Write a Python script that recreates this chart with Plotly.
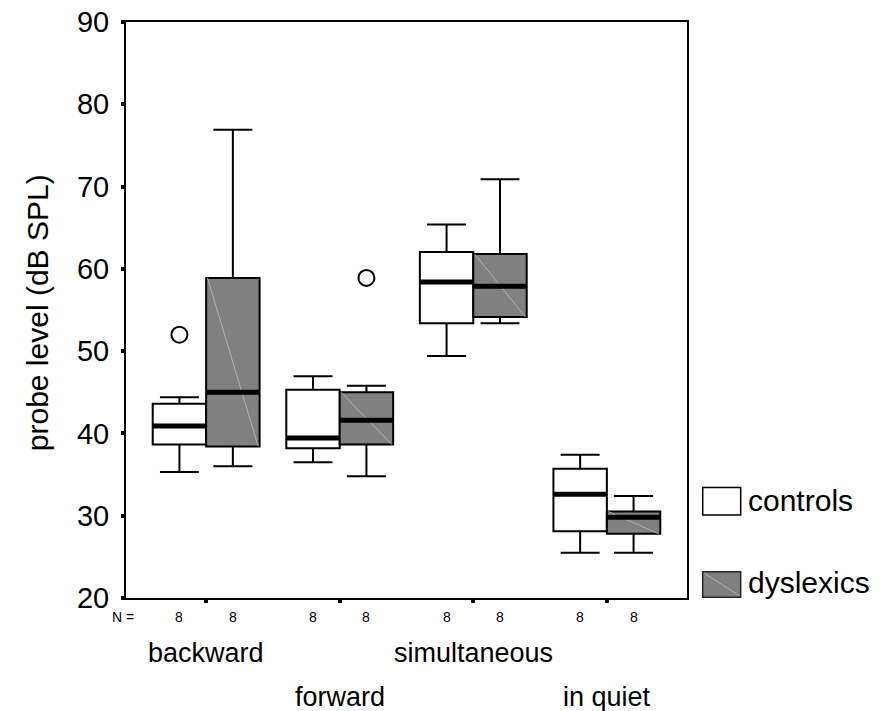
import plotly.graph_objects as go

# ---- data ----
conditions = ["backward", "forward", "simultaneous", "in quiet"]

ctrl_lower = [35.3, 36.5, 49.4, 25.5]
ctrl_q1 = [38.65, 38.2, 53.4, 28.1]
ctrl_median = [40.9, 39.45, 58.4, 32.6]
ctrl_q3 = [43.6, 45.3, 62.05, 35.7]
ctrl_upper = [44.4, 46.95, 65.4, 37.4]

dys_lower = [36.0, 34.8, 53.4, 25.5]
dys_q1 = [38.4, 38.65, 54.15, 27.8]
dys_median = [45.0, 41.6, 57.9, 29.8]
dys_q3 = [58.9, 45.0, 61.8, 30.5]
dys_upper = [76.9, 45.8, 70.9, 32.4]

ctrl_outlier_cond = ["backward"]
ctrl_outlier_val = [52.0]
dys_outlier_cond = ["forward"]
dys_outlier_val = [58.9]

n_ctrl = [8, 8, 8, 8]
n_dys = [8, 8, 8, 8]

y_ticks = [20, 30, 40, 50, 60, 70, 80, 90]

# ---- layout helpers ----
FONT = "Liberation Sans, Arial, sans-serif"
OFF = 0.2   # half-distance between paired boxes
BW = 0.4    # box width (data units)
gpos = {c: i for i, c in enumerate(conditions)}
ctrl_x = [gpos[c] - OFF for c in conditions]
dys_x = [gpos[c] + OFF for c in conditions]

fig = go.Figure()

fig.add_trace(go.Box(
    x=ctrl_x, q1=ctrl_q1, median=ctrl_median, q3=ctrl_q3,
    lowerfence=ctrl_lower, upperfence=ctrl_upper,
    width=BW, whiskerwidth=0.73,
    fillcolor="white", line=dict(color="black", width=2),
    name="controls", showlegend=False, hoverinfo="skip"))

fig.add_trace(go.Box(
    x=dys_x, q1=dys_q1, median=dys_median, q3=dys_q3,
    lowerfence=dys_lower, upperfence=dys_upper,
    width=BW, whiskerwidth=0.73,
    fillcolor="rgb(128,128,128)", line=dict(color="black", width=2),
    name="dyslexics", showlegend=False, hoverinfo="skip"))

# faint diagonal highlight inside dyslexic boxes
dx, dy = [], []
for x, q1, q3 in zip(dys_x, dys_q1, dys_q3):
    dx += [x - BW / 2 + 0.01, x + BW / 2 - 0.01, None]
    dy += [q3, q1, None]
fig.add_trace(go.Scatter(x=dx, y=dy, mode="lines",
                         line=dict(color="rgb(175,175,175)", width=1),
                         showlegend=False, hoverinfo="skip"))

# thick median lines
mx, my = [], []
for xs, meds in ((ctrl_x, ctrl_median), (dys_x, dys_median)):
    for x, m in zip(xs, meds):
        mx += [x - BW / 2, x + BW / 2, None]
        my += [m, m, None]
fig.add_trace(go.Scatter(x=mx, y=my, mode="lines",
                         line=dict(color="black", width=5),
                         showlegend=False, hoverinfo="skip"))

# outliers
ox = [gpos[c] - OFF for c in ctrl_outlier_cond] + [gpos[c] + OFF for c in dys_outlier_cond]
oy = ctrl_outlier_val + dys_outlier_val
fig.add_trace(go.Scatter(x=ox, y=oy, mode="markers",
                         marker=dict(symbol="circle-open", size=16, color="black",
                                     line=dict(width=2)),
                         showlegend=False, hoverinfo="skip"))

annotations = []
# N row
annotations.append(dict(x=-0.0, xref="paper", xanchor="right", xshift=10,
                        y=-0.033, yref="paper", yanchor="middle",
                        text="N =", showarrow=False,
                        font=dict(family=FONT, size=14, color="black")))
for xs, ns in ((ctrl_x, n_ctrl), (dys_x, n_dys)):
    for x, n in zip(xs, ns):
        annotations.append(dict(x=x, xref="x", y=-0.033, yref="paper",
                                yanchor="middle", text=str(n), showarrow=False,
                                font=dict(family=FONT, size=14, color="black")))
# category labels (staggered)
for i, c in enumerate(conditions):
    annotations.append(dict(x=gpos[c], xref="x",
                            y=-0.0954 if i % 2 == 0 else -0.1718, yref="paper",
                            yanchor="middle", text=c, showarrow=False,
                            font=dict(family=FONT, size=27, color="black")))
# y title
annotations.append(dict(x=-0.1586, xref="paper", y=0.4945, yref="paper",
                        text="probe level (dB SPL)", textangle=-90, showarrow=False,
                        xanchor="center", yanchor="middle",
                        font=dict(family=FONT, size=30, color="black")))
# legend text
annotations.append(dict(x=1.105, xref="paper", y=0.17, yref="paper",
                        xanchor="left", yanchor="middle", text="controls",
                        showarrow=False, font=dict(family=FONT, size=30, color="black")))
annotations.append(dict(x=1.105, xref="paper", y=0.027, yref="paper",
                        xanchor="left", yanchor="middle", text="dyslexics",
                        showarrow=False, font=dict(family=FONT, size=30, color="black")))

shapes = [
    dict(type="rect", xref="paper", yref="paper", x0=1.028, x1=1.0957,
         y0=0.144, y1=0.192, fillcolor="white", line=dict(color="black", width=1.5)),
    dict(type="rect", xref="paper", yref="paper", x0=1.028, x1=1.0957,
         y0=0.0012, y1=0.0456, fillcolor="rgb(128,128,128)",
         line=dict(color="rgb(40,40,40)", width=1.5)),
    dict(type="line", xref="paper", yref="paper", x0=1.031, x1=1.093,
         y0=0.043, y1=0.004, line=dict(color="rgb(175,175,175)", width=1)),
]

fig.update_layout(
    width=880, height=711,
    margin=dict(l=126, r=193, t=22, b=113),
    paper_bgcolor="white", plot_bgcolor="white",
    boxmode="overlay",
    showlegend=False,
    annotations=annotations, shapes=shapes,
    xaxis=dict(range=[-0.6, 3.6], tickvals=list(range(len(conditions))),
               showticklabels=False, ticks="outside", ticklen=3, tickwidth=4,
               tickcolor="black", showline=True, linecolor="black", linewidth=2,
               mirror=True, showgrid=False, zeroline=False, fixedrange=True,
               automargin=False),
    yaxis=dict(range=[20, 90], tickvals=y_ticks, ticks="outside", ticklen=3,
               tickwidth=4, tickcolor="black", showline=True, linecolor="black",
               linewidth=2, mirror=True, showgrid=False, zeroline=False,
               tickfont=dict(family=FONT, size=29, color="black"),
               ticklabelstandoff=6, fixedrange=True, automargin=False),
)

fig.write_html("out.html")
